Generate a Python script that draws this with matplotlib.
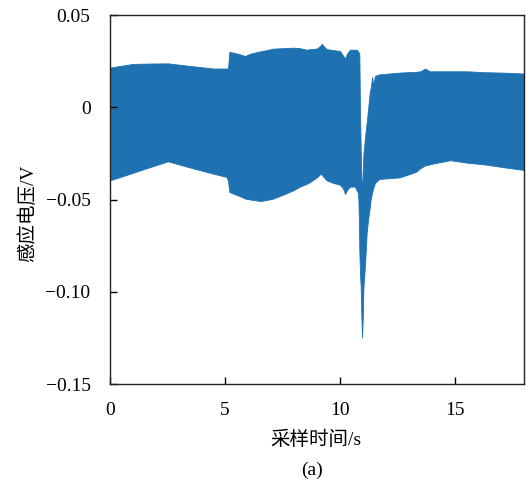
import matplotlib
matplotlib.use("Agg")
from matplotlib import pyplot as plt

# envelope of the induced voltage signal: time (s), upper and lower edge (V)
t = [0.0, 0.5, 1.0, 1.8, 2.52, 3.2, 3.91, 4.49, 5.07, 5.13, 5.19, 5.4, 5.65,
     5.87, 6.09, 6.52, 6.67, 7.1, 7.5, 7.97, 8.26, 8.55, 8.7, 8.99, 9.16, 9.2,
     9.3, 9.42, 9.7, 10.0, 10.13, 10.22, 10.3, 10.36, 10.43, 10.65, 10.72,
     10.77, 10.80, 10.82, 10.84, 10.87, 10.90, 10.93, 10.96, 10.99, 11.02,
     11.09, 11.16, 11.23, 11.30, 11.33, 11.40, 11.44, 11.52, 11.7, 11.87,
     12.6, 13.3, 13.5, 13.7, 13.9, 14.05, 14.8, 15.5, 16.3, 17.0, 18.0]
v_upper = [0.0215, 0.0225, 0.0235, 0.0237, 0.0238, 0.0228, 0.0218, 0.021,
           0.021, 0.021, 0.030, 0.0295, 0.0287, 0.0278, 0.029, 0.0303, 0.0306,
           0.0318, 0.032, 0.0323, 0.032, 0.0312, 0.0315, 0.0318, 0.0335, 0.0345,
           0.033, 0.0315, 0.031, 0.0305, 0.028, 0.0264, 0.029, 0.030, 0.0312,
           0.0312, 0.0312, 0.0305, 0.030, 0.0295, 0.029, 0.0, -0.023, -0.038,
           -0.048, -0.035, -0.025, -0.016, -0.008, 0.0, 0.009, 0.010, 0.0164,
           0.012, 0.017, 0.0178, 0.018, 0.0188, 0.0192, 0.0195, 0.021, 0.0195,
           0.0195, 0.0195, 0.0195, 0.019, 0.0188, 0.0183]
v_lower = [-0.0396, -0.0376, -0.0355, -0.0322, -0.0293, -0.0317, -0.0341,
           -0.036, -0.0378, -0.040, -0.0459, -0.047, -0.0482, -0.0495, -0.050,
           -0.0508, -0.0506, -0.0495, -0.0475, -0.045, -0.043, -0.0415, -0.0405,
           -0.038, -0.036, -0.0365, -0.038, -0.0396, -0.041, -0.042, -0.044,
           -0.047, -0.045, -0.044, -0.043, -0.043, -0.045, -0.046, -0.050,
           -0.060, -0.0775, -0.090, -0.0975, -0.114, -0.1247, -0.114, -0.0975,
           -0.085, -0.068, -0.060, -0.054, -0.050, -0.046, -0.044, -0.041,
           -0.039, -0.0387, -0.038, -0.035, -0.033, -0.0315, -0.031, -0.0305,
           -0.0287, -0.030, -0.031, -0.0323, -0.034]

x_ticks = [0, 5, 10, 15]
y_ticks = [0.05, 0, -0.05, -0.10, -0.15]
y_ticklabels = ["0.05", "0", "\u22120.05", "\u22120.10", "\u22120.15"]

plt.rcParams["font.family"] = ["Liberation Serif", "Noto Sans CJK SC"]
plt.rcParams["font.size"] = 14

fig = plt.figure(figsize=(5.26, 4.84), dpi=100)
ax = fig.add_axes([0.2091, 0.2066, 0.7871, 0.7624])

ax.fill_between(t, v_lower, v_upper, color="#1f72b2", linewidth=0.6,
                edgecolor="#1f72b2")

ax.set_xlim(0, 18)
ax.set_ylim(-0.15, 0.05)
ax.set_xticks(x_ticks)
ax.set_yticks(y_ticks)
ax.set_yticklabels(y_ticklabels)
ax.tick_params(direction="in", length=5, width=1, labelsize=14)
ax.tick_params(axis="x", pad=13)
ax.tick_params(axis="y", pad=14)
for sp in ax.spines.values():
    sp.set_linewidth(1.0)
    sp.set_color("#222222")

fig.text(0.601, 1 - 440 / 484, "采样时间/s", ha="center", va="center", fontsize=14)
fig.text(0.594, 1 - 470 / 484, "(a)", ha="center", va="center", fontsize=14)
fig.text(28 / 526, 1 - 213 / 484, "感应电压/V", ha="center", va="center",
         rotation=90, fontsize=14)

fig.savefig("out.png", dpi=100)
